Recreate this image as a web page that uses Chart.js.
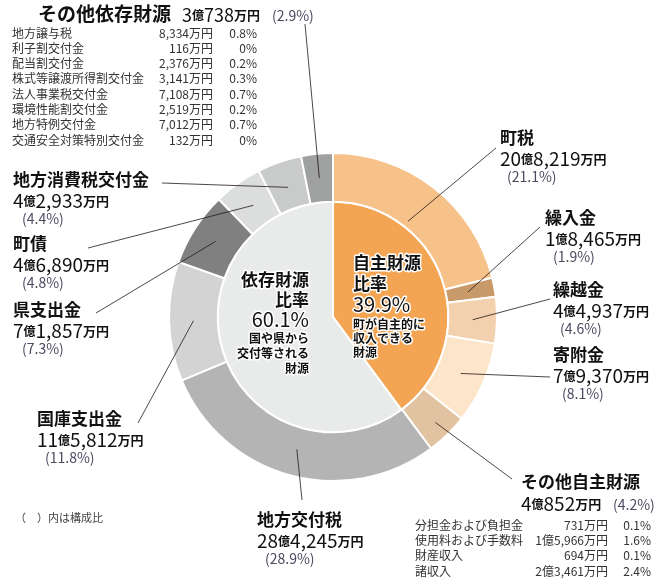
<!DOCTYPE html>
<html lang="ja">
<head>
<meta charset="UTF-8">
<script src="https://cdn.jsdelivr.net/npm/chart.js"></script>
<title>歳入の内訳</title>
<style>
  body { margin: 0; background: #fff; }
  #wrap { width: 663px; height: 586px; }
</style>
</head>
<body>
<div id="wrap"><canvas id="revenue" width="663" height="586"></canvas></div>
<script>
// 自主財源 (amounts in 万円)
const selfCategories = ['町税', '繰入金', '繰越金', '寄附金', 'その他自主財源'];
const selfAmounts = [208219, 18465, 44937, 79370, 40852];
const selfShares = [21.1, 1.9, 4.6, 8.1, 4.2];

// 依存財源
const depCategories = ['地方交付税', '国庫支出金', '県支出金', '町債', '地方消費税交付金', 'その他依存財源'];
const depAmounts = [284245, 115812, 71857, 46890, 42933, 30738];
const depShares = [28.9, 11.8, 7.3, 4.8, 4.4, 2.9];

// inner ring: 自主 / 依存 ratio
const ratioLabels = ['自主財源比率', '依存財源比率'];
const ratioValues = [39.9, 60.1];

// breakdowns
const otherDepItems = ['地方譲与税', '利子割交付金', '配当割交付金', '株式等譲渡所得割交付金', '法人事業税交付金', '環境性能割交付金', '地方特例交付金', '交通安全対策特別交付金'];
const otherDepAmounts = [8334, 116, 2376, 3141, 7108, 2519, 7012, 132];
const otherDepShares = [0.8, 0, 0.2, 0.3, 0.7, 0.2, 0.7, 0];

const otherSelfItems = ['分担金および負担金', '使用料および手数料', '財産収入', '諸収入'];
const otherSelfAmounts = [731, 15966, 694, 23461];
const otherSelfShares = [0.1, 1.6, 0.1, 2.4];

const outerLabels = selfCategories.concat(depCategories);
const outerValues = selfAmounts.concat(depAmounts);
const outerShares = selfShares.concat(depShares);

const outerColors = ['#f7c28a', '#c99a69', '#f4d1ae', '#fde5ca', '#e2c3a1',
                     '#b4b4b5', '#d3d3d3', '#808080', '#dcdddd', '#c9caca', '#9fa0a0'];
const innerColors = ['#f4a553', '#e9eaea'];

const FONT = '"Noto Sans CJK JP", "Noto Sans", sans-serif';

// label placement: x = left, y = title middle, px = percent x, lx/ly = leader start, f = where the line ends in the ring
const labelPos = [
  { x: 500, y: 138, px: 507, lx: 496, ly: 148, f: 0.13 },
  { x: 545, y: 218, px: 553, lx: 540, ly: 227, f: 0.45 },
  { x: 553, y: 290, px: 560, lx: 550, ly: 299, f: 0.5 },
  { x: 553, y: 355, px: 562, lx: 550, ly: 377, f: 0.5 },
  { x: 521, y: 482, px: 613, lx: 512, ly: 479, f: 0.65, mode: 'two' },
  { x: 257, y: 520, px: 265, lx: 302, ly: 500, f: 0.45 },
  { x: 37, y: 419, px: 45, lx: 138, ly: 423, f: 0.5 },
  { x: 13, y: 310, px: 22, lx: 96, ly: 313, f: 0.5 },
  { x: 13, y: 244, px: 22, lx: 88, ly: 248, f: 0.45 },
  { x: 13, y: 180, px: 22, lx: 162, ly: 183, f: 0.45 },
  { x: 38, y: 14, px: 272, lx: 305, ly: 24, f: 0.5, mode: 'one' }
];

function fmtMan(v) {
  if (v >= 10000) {
    return Math.floor(v / 10000) + '億' + (v % 10000).toLocaleString('en-US') + '万円';
  }
  return v.toLocaleString('en-US') + '万円';
}

function amountRuns(v, big) {
  const runs = [];
  if (v >= 10000) {
    runs.push({ t: String(Math.floor(v / 10000)), f: big + 'px ' + FONT });
    runs.push({ t: '億', f: 'bold 12px ' + FONT });
    v = v % 10000;
  }
  runs.push({ t: v.toLocaleString('en-US'), f: big + 'px ' + FONT });
  runs.push({ t: '万円', f: 'bold 13px ' + FONT });
  return runs;
}

function drawRuns(ctx, runs, x, y) {
  runs.forEach(function(r) {
    ctx.font = r.f;
    ctx.fillText(r.t, x, y);
    x += ctx.measureText(r.t).width;
  });
  return x;
}

function outlined(ctx, text, x, y) {
  ctx.strokeText(text, x, y);
  ctx.fillText(text, x, y);
}

const labelPlugin = {
  id: 'revenueLabels',
  afterDraw(chart) {
    const ctx = chart.ctx;
    const arcs = chart.getDatasetMeta(0).data;
    ctx.save();
    ctx.textBaseline = 'middle';

    // leader lines
    ctx.strokeStyle = '#231815';
    ctx.lineWidth = 0.8;
    arcs.forEach(function(el, i) {
      const p = labelPos[i];
      const a = (el.startAngle + el.endAngle) / 2;
      const r = el.innerRadius + (el.outerRadius - el.innerRadius) * p.f;
      ctx.beginPath();
      ctx.moveTo(p.lx, p.ly);
      ctx.lineTo(el.x + r * Math.cos(a), el.y + r * Math.sin(a));
      ctx.stroke();
    });

    // category labels
    const pctFont = '14px ' + FONT;
    outerLabels.forEach(function(name, i) {
      const p = labelPos[i];
      const pct = '(' + outerShares[i] + '%)';
      ctx.textAlign = 'left';
      ctx.fillStyle = '#111';
      if (p.mode === 'one') {
        ctx.font = 'bold 19px ' + FONT;
        ctx.fillText(name, p.x, p.y);
        drawRuns(ctx, amountRuns(outerValues[i], 18), p.x + 144, p.y + 1);
        ctx.font = pctFont;
        ctx.fillStyle = '#4a4a60';
        ctx.fillText(pct, p.px, p.y + 2);
      } else if (p.mode === 'two') {
        ctx.font = 'bold 17px ' + FONT;
        ctx.fillText(name, p.x, p.y);
        drawRuns(ctx, amountRuns(outerValues[i], 19), p.x, p.y + 22);
        ctx.font = pctFont;
        ctx.fillStyle = '#4a4a60';
        ctx.fillText(pct, p.px, p.y + 23);
      } else {
        ctx.font = 'bold 17px ' + FONT;
        ctx.fillText(name, p.x, p.y);
        drawRuns(ctx, amountRuns(outerValues[i], 19), p.x, p.y + 21);
        ctx.font = pctFont;
        ctx.fillStyle = '#4a4a60';
        ctx.fillText(pct, p.px, p.y + 39);
      }
    });

    // breakdown lists
    ctx.font = '12px ' + FONT;
    ctx.fillStyle = '#333';
    otherDepItems.forEach(function(item, i) {
      const y = 33 + i * 15.3;
      ctx.textAlign = 'left';
      ctx.fillText(item, 12, y);
      ctx.textAlign = 'right';
      ctx.fillText(fmtMan(otherDepAmounts[i]), 213, y);
      ctx.fillText(otherDepShares[i] + '%', 257, y);
    });
    otherSelfItems.forEach(function(item, i) {
      const y = 525.5 + i * 15.2;
      ctx.textAlign = 'left';
      ctx.fillText(item, 415, y);
      ctx.textAlign = 'right';
      ctx.fillText(fmtMan(otherSelfAmounts[i]), 608, y);
      ctx.fillText(otherSelfShares[i] + '%', 651, y);
    });

    ctx.textAlign = 'left';
    ctx.font = '11px ' + FONT;
    ctx.fillStyle = '#444';
    ctx.fillText('（　）内は構成比', 15, 518);

    // texts inside the inner pie
    const c = chart.getDatasetMeta(1).data[0];
    const cx = c.x, cy = c.y;
    ctx.strokeStyle = '#fff';
    ctx.lineWidth = 3;
    ctx.lineJoin = 'round';
    ctx.fillStyle = '#111';

    ctx.textAlign = 'left';
    const lx = cx + 20;
    ctx.font = 'bold 17px ' + FONT;
    outlined(ctx, '自主財源', lx, cy - 54.5);
    outlined(ctx, '比率', lx, cy - 33);
    ctx.font = '20px ' + FONT;
    outlined(ctx, ratioValues[0].toFixed(1) + '%', lx, cy - 12.5);
    ctx.font = 'bold 12px ' + FONT;
    outlined(ctx, '町が自主的に', lx, cy + 7);
    outlined(ctx, '収入できる', lx, cy + 21);
    outlined(ctx, '財源', lx, cy + 35.5);

    ctx.textAlign = 'right';
    const rx = cx - 24;
    ctx.font = 'bold 17px ' + FONT;
    outlined(ctx, '依存財源', rx, cy - 37.5);
    outlined(ctx, '比率', rx, cy - 17.5);
    ctx.font = '20px ' + FONT;
    outlined(ctx, ratioValues[1].toFixed(1) + '%', rx, cy + 2.5);
    ctx.font = 'bold 12px ' + FONT;
    outlined(ctx, '国や県から', rx, cy + 21.5);
    outlined(ctx, '交付等される', rx, cy + 36);
    outlined(ctx, '財源', rx, cy + 51);

    ctx.restore();
  }
};

new Chart(document.getElementById('revenue'), {
  type: 'doughnut',
  data: {
    labels: outerLabels,
    datasets: [{
      data: outerValues,
      backgroundColor: outerColors,
      borderColor: '#fff',
      borderWidth: 2,
      weight: 49
    }, {
      label: '財源比率',
      data: ratioValues,
      backgroundColor: innerColors,
      borderColor: '#fff',
      borderWidth: 2,
      weight: 116
    }]
  },
  options: {
    responsive: false,
    animation: false,
    cutout: 0,
    layout: { padding: { left: 168, right: 165, top: 152, bottom: 104 } },
    plugins: {
      legend: { display: false },
      tooltip: { enabled: false }
    }
  },
  plugins: [labelPlugin]
});
</script>
</body>
</html>
